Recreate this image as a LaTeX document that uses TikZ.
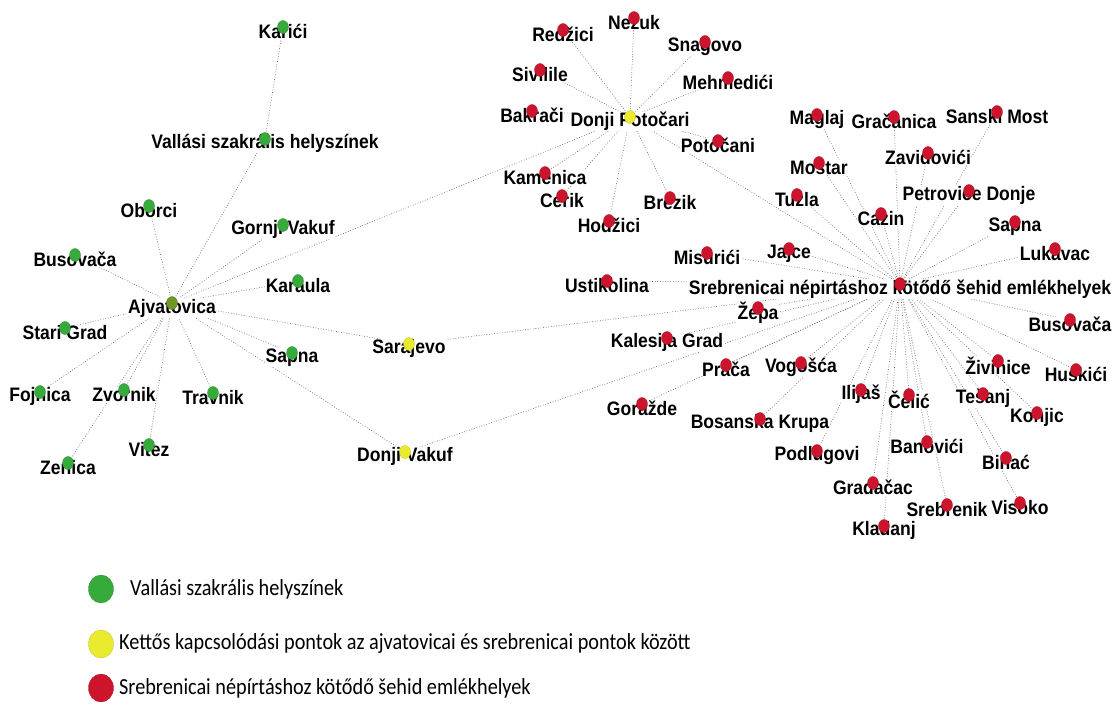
\documentclass[tikz,border=0pt]{standalone}
\usepackage{fontspec}
\usepackage{tikz}
\usetikzlibrary{shapes.geometric}

\newfontfamily\placefont{Liberation Sans}[FakeStretch=0.9]
\newfontfamily\keyfont{Carlito}[FakeStretch=0.88]

\definecolor{sacredgreen}{RGB}{55,170,60}
\definecolor{ajvgreen}{RGB}{110,150,40}
\definecolor{linkyellow}{RGB}{235,235,45}
\definecolor{shahidred}{RGB}{205,20,45}
\definecolor{edgegrey}{RGB}{105,105,105}

\pgfdeclarelayer{edges}
\pgfdeclarelayer{labels}
\pgfsetlayers{edges,labels,main}

\tikzset{
  spot/.style={ellipse, inner sep=0pt, minimum width=11pt, minimum height=13pt,
    fill=#1, draw=#1!80!black, line width=0.3pt},
  gspot/.style={spot=sacredgreen},
  yspot/.style={spot=linkyellow},
  rspot/.style={spot=shahidred},
  bigspot/.style={spot=#1, minimum width=25pt, minimum height=28pt},
  lbl/.style={font={\placefont\bfseries\fontsize{19.5pt}{21pt}\selectfont},
    inner sep=0.5pt, fill=white},
  keytext/.style={anchor=west, inner sep=0pt,
    font={\keyfont\fontsize{23pt}{25pt}\selectfont}},
  link/.style={edgegrey, line width=0.6pt, dash pattern=on 0.8pt off 1.8pt}
}

\begin{document}
\begin{tikzpicture}[x=1pt, y=-1pt]

 \useasboundingbox (0,0) rectangle (1113,704);

 % Ajvatovica group (green)
 \node[spot=ajvgreen] (ajv) at (172,303) {};
 \begin{pgfonlayer}{labels}
  \node[lbl] (ajv-t) at ([yshift=-5pt]ajv.center) {Ajvatovica};
 \end{pgfonlayer}
 \foreach \n/\p/\t in {kar/{283,27}/Karići, vsz/{265,139}/Vallási szakrális helyszínek,
   obo/{149,206}/Oborci, gvk/{283,225}/Gornji Vakuf, bug/{75,255}/Busovača,
   kau/{298,281}/Karaula, stg/{65,328}/Stari Grad, sag/{292,353}/Sapna,
   foj/{40,392}/Fojnica, zvo/{124,390}/Zvornik, tra/{213,393}/Travnik,
   vit/{149,445}/Vitez, zen/{68,463}/Zenica}{
  \node[gspot] (\n) at (\p) {};
  \begin{pgfonlayer}{labels}
   \node[lbl] (\n-t) at ([yshift=-4.5pt]\n.center) {\t};
  \end{pgfonlayer}
 }

 % Double links (yellow)
 \foreach \n/\p/\t in {sar/{409,344}/Sarajevo, dvk/{405,452}/Donji Vakuf,
   dpo/{630,117}/Donji Potočari}{
  \node[yspot] (\n) at (\p) {};
  \begin{pgfonlayer}{labels}
   \node[lbl] (\n-t) at ([yshift=-4.5pt]\n.center) {\t};
  \end{pgfonlayer}
 }

 % Srebrenica memorial sites (red)
 \node[rspot] (sre) at (900,284) {};
 \begin{pgfonlayer}{labels}
  \node[lbl] (sre-t) at ([yshift=-5pt]sre.center) {Srebrenicai népirtáshoz kötődő šehid emlékhelyek};
 \end{pgfonlayer}
 \foreach \n/\p/\t in {nez/{634,18}/Nezuk, rdz/{563,30}/Redžici, sna/{705,42}/Snagovo,
   siv/{540,70}/Sivilile, meh/{728,78}/Mehmedići, bak/{532,111}/Bakrači,
   ptc/{718,141}/Potočani, kam/{545,173}/Kamenica, cer/{562,196}/Cerik,
   bre/{670,198}/Brezik, hod/{609,221}/Hodžici,
   mag/{817,115}/Maglaj, gra/{894,117}/Gračanica, san/{997,112}/Sanski Most,
   zav/{928,153}/Zavidovići, mos/{819,163}/Mostar, tuz/{797,195}/Tuzla,
   pdo/{969,191}/Petrovice Donje, caz/{881,214}/Cazin, sap/{1015,222}/Sapna,
   luk/{1055,249}/Lukavac, mis/{707,253}/Misurići, jaj/{789,249}/Jajce,
   ust/{607,281}/Ustikolina, zep/{758,308}/Žepa, bus/{1070,320}/Busovača,
   kal/{667,338}/Kalesija Grad, pra/{726,365}/Prača, vog/{801,363}/Vogošća,
   gor/{642,404}/Goražde, bkr/{760,419}/Bosanska Krupa, ili/{861,390}/Ilijaš,
   cel/{909,395}/Čelić, ziv/{998,361}/Živinice, hus/{1076,370}/Huskići,
   tes/{983,394}/Tešanj, kon/{1037,413}/Konjic, pod/{817,451}/Podlugovi,
   ban/{927,442}/Banovići, bih/{1006,458}/Bihać, grd/{873,483}/Gradačac,
   srb/{947,505}/Srebrenik, vis/{1020,503}/Visoko, kla/{884,526}/Kladanj}{
  \node[rspot] (\n) at (\p) {};
  \begin{pgfonlayer}{labels}
   \node[lbl] (\n-t) at ([yshift=-4.5pt]\n.center) {\t};
  \end{pgfonlayer}
 }

 % Connections
 \begin{pgfonlayer}{edges}
  \draw[link] (vsz.center) -- (kar.center);
  \foreach \e in {vsz,obo,gvk,bug,kau,stg,sag,foj,zvo,tra,vit,zen,sar,dvk,dpo}
   \draw[link] (ajv.center) -- (\e.center);
  \foreach \e in {nez,rdz,sna,siv,meh,bak,ptc,kam,cer,bre,hod,sre}
   \draw[link] (dpo.center) -- (\e.center);
  \draw[link] (sar.center) -- (sre.center);
  \draw[link] (dvk.center) -- (sre.center);
  \foreach \e in {mag,gra,san,zav,mos,tuz,pdo,caz,sap,luk,mis,jaj,ust,zep,bus,kal,pra,
    vog,gor,bkr,ili,cel,ziv,hus,tes,kon,pod,ban,bih,grd,srb,vis,kla}
   \draw[link] (sre.center) -- (\e.center);
 \end{pgfonlayer}

 % Legend
 \node[bigspot=sacredgreen] (keyg) at (101,589) {};
 \node[keytext] (keyg-t) at (130,589) {Vallási szakrális helyszínek};
 \node[bigspot=linkyellow] (keyy) at (101,644) {};
 \node[keytext] (keyy-t) at (119,643) {Kettős kapcsolódási pontok az ajvatovicai és srebrenicai pontok között};
 \node[bigspot=shahidred] (keyr) at (101,688) {};
 \node[keytext] (keyr-t) at (119,688) {Srebrenicai népírtáshoz kötődő šehid emlékhelyek};

\end{tikzpicture}
\end{document}
